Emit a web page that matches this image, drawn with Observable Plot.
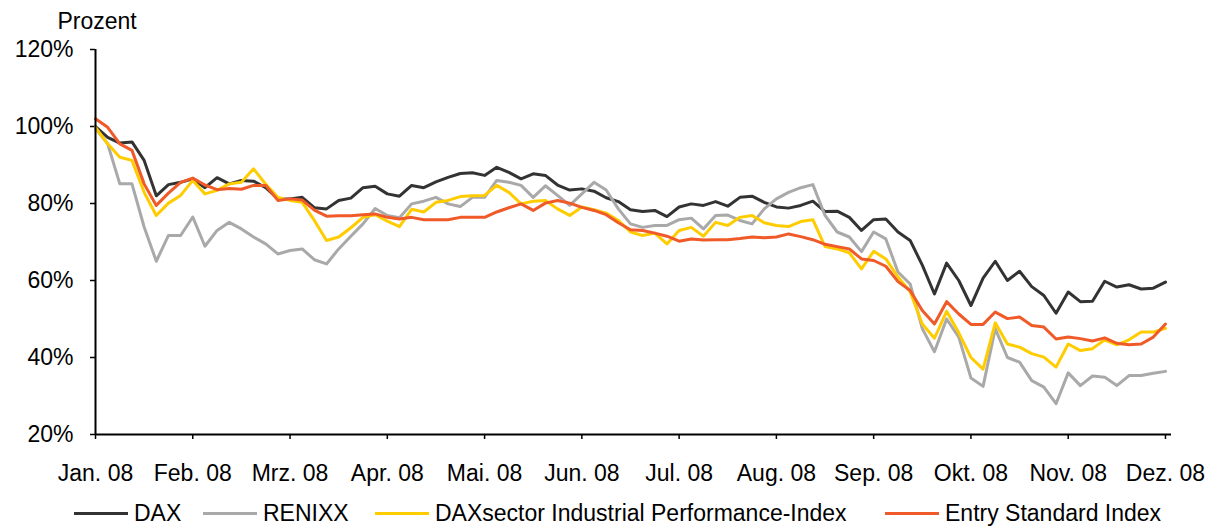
<!DOCTYPE html>
<html><head><meta charset="utf-8">
<script src="https://cdn.jsdelivr.net/npm/d3@7"></script>
<script src="https://cdn.jsdelivr.net/npm/@observablehq/plot@0.6"></script>
<style>
body{margin:0;background:#fff;font-family:"Liberation Sans",Arial,sans-serif;}
#wrap{width:1218px;height:528px;position:relative;overflow:hidden;}
.item{position:absolute;top:499px;height:28px;display:flex;align-items:center;font-size:23px;color:#000;white-space:nowrap;}
.sw{width:54px;height:3px;margin-right:6px;}
</style></head><body><div id="wrap"></div>
<script>
const months = ["Jan. 08","Feb. 08","Mrz. 08","Apr. 08","Mai. 08","Jun. 08","Jul. 08","Aug. 08","Sep. 08","Okt. 08","Nov. 08","Dez. 08"];
const yTicks = [20,40,60,80,100,120];
const seriesNames = ["DAX","RENIXX","DAXsector Industrial Performance-Index","Entry Standard Index"];
const seriesColors = ["#333333","#A9A9A9","#FFCC00","#F05A28"];
// values in percent, one every 1/8 month from Jan. 08 to Dez. 08
const dax = [100, 97.2, 95.7, 96, 91.2, 82, 84.9, 85.5,
86.4, 84.1, 86.7, 85.1, 86, 85.8, 84.1, 81.2,
81.2, 81.6, 78.9, 78.6, 80.8, 81.4, 84.1, 84.5,
82.5, 81.9, 84.7, 84.1, 85.6, 86.8, 87.8, 88,
87.3, 89.4, 88.1, 86.4, 87.7, 87.3, 84.8, 83.5,
83.8, 83.2, 81.5, 80.5, 78.4, 77.9, 78.2, 76.6,
79.1, 79.9, 79.5, 80.5, 79.3, 81.6, 81.9, 80.3,
79.1, 78.8, 79.5, 80.6, 77.9, 78, 76.4, 73,
75.8, 76, 72.6, 70.4, 64, 56.5, 64.5, 60,
53.5, 60.6, 65, 60, 62.4, 58.4, 56.1, 51.5,
57, 54.5, 54.6, 59.8, 58.3, 58.9, 57.8, 58,
59.6];
const renixx = [99.5, 95.5, 85.1, 85.1, 73.9, 65, 71.7, 71.7,
76.5, 68.9, 73, 75.1, 73.4, 71.3, 69.5, 66.9,
67.8, 68.2, 65.4, 64.3, 68.2, 71.5, 74.7, 78.7,
76.9, 76.3, 79.9, 80.6, 81.6, 79.9, 79.2, 81.6,
81.6, 86, 85.5, 84.7, 81.6, 84.6, 82.1, 79.5,
82.5, 85.5, 83.5, 78.6, 74.7, 73.8, 74.3, 74.3,
75.8, 76.2, 73.4, 76.9, 77, 75.6, 74.7, 78.6,
81.2, 82.9, 84.1, 84.9, 76.9, 72.6, 71.3, 67.5,
72.6, 70.8, 62.2, 59.1, 47.5, 41.5, 50, 45.3,
34.7, 32.5, 47.5, 40, 38.8, 34, 32.3, 28,
36, 32.7, 35.2, 34.9, 32.7, 35.3, 35.3, 35.9,
36.4];
const daxsector = [99.8, 95.5, 92, 91.2, 82.9, 76.9, 80.1, 82.1,
86, 82.5, 83.4, 85.1, 85.5, 89, 85, 81.6,
80.8, 80.3, 75.6, 70.4, 71.3, 73.7, 76.4, 77.1,
75.4, 74, 78.5, 77.8, 80.3, 80.8, 81.8, 82,
82.1, 84.7, 82.9, 79.9, 80.6, 80.8, 78.6, 76.9,
79.1, 78.4, 77.5, 75.6, 72.6, 71.7, 72.3, 69.5,
73, 73.8, 71.5, 75.1, 74.3, 76.4, 76.9, 75,
74.3, 74, 75.3, 75.8, 68.8, 68.2, 67.2, 63,
67.6, 65.6, 60.9, 57.1, 48.7, 45, 52, 46.4,
40, 37, 49, 43.5, 42.7, 41, 40.1, 37.5,
43.5, 41.8, 42.3, 44.6, 43.3, 44.6, 46.6, 46.6,
47.6];
const entry = [102, 99.8, 95.5, 93.8, 85.1, 79.5, 82.7, 85.5,
86.6, 84.8, 83.6, 83.9, 83.7, 84.7, 84.7, 80.8,
81.2, 80.9, 78.3, 76.7, 76.8, 76.8, 77.1, 77.3,
76.4, 76, 76.4, 75.8, 75.8, 75.8, 76.4, 76.4,
76.4, 77.8, 78.9, 79.9, 78.2, 80.1, 80.8, 80.1,
79, 78.2, 77.1, 75, 73.2, 73, 72.3, 71.5,
70.2, 70.8, 70.5, 70.6, 70.6, 70.9, 71.3, 71.1,
71.3, 72.1, 71.4, 70.6, 69.4, 68.8, 68.2, 65.6,
65.2, 63.7, 59.7, 57.4, 52.2, 48.7, 54.5, 51.3,
48.6, 48.6, 51.8, 50.1, 50.5, 48.3, 47.9, 44.8,
45.3, 44.9, 44.3, 45.1, 43.7, 43.3, 43.5, 45.3,
48.7];
const allSeries = [dax, renixx, daxsector, entry];
const tPos = dax.map((_, i) => i / 8); // month position

const font = '"Liberation Sans", Arial, sans-serif';
const chart = Plot.plot({
  width: 1218, height: 490,
  marginLeft: 95, marginRight: 47, marginTop: 49, marginBottom: 56,
  style: {fontFamily: font, fontSize: "23px", color: "#000", background: "#fff", overflow: "visible"},
  x: {domain: [0, 11.062]},
  y: {domain: [20, 120]},
  marks: [
    Plot.axisX({ticks: d3.range(months.length), tickFormat: i => months[i], tickSize: 5, tickPadding: 25, stroke: "#000", strokeWidth: 1.5, fontSize: 23, label: null}),
    Plot.axisY({ticks: yTicks, tickFormat: d => d + "%", tickSize: 5, tickPadding: 17, stroke: "#000", strokeWidth: 1.5, fontSize: 23, label: null}),
    ...allSeries.map((s, k) => Plot.line(s, {x: (d, i) => tPos[i], y: d => d, stroke: seriesColors[k], strokeWidth: 3, strokeLinejoin: "round"})),
    Plot.ruleX([0], {stroke: "#000", strokeWidth: 2}),
    Plot.ruleY([20], {stroke: "#000", strokeWidth: 2}),
    Plot.text(["Prozent"], {frameAnchor: "top-left", dx: -38, dy: -37, textAnchor: "start", lineAnchor: "top", fontSize: 23, fill: "#000"})
  ]
});
const wrap = document.getElementById("wrap");
wrap.appendChild(chart);
const legendLeft = [74, 203, 375, 885];
seriesNames.forEach((n, k) => {
  const it = document.createElement("div"); it.className = "item"; it.style.left = legendLeft[k] + "px";
  const sw = document.createElement("span"); sw.className = "sw"; sw.style.background = seriesColors[k];
  const tx = document.createElement("span"); tx.textContent = n;
  it.appendChild(sw); it.appendChild(tx); wrap.appendChild(it);
});
</script></body></html>
